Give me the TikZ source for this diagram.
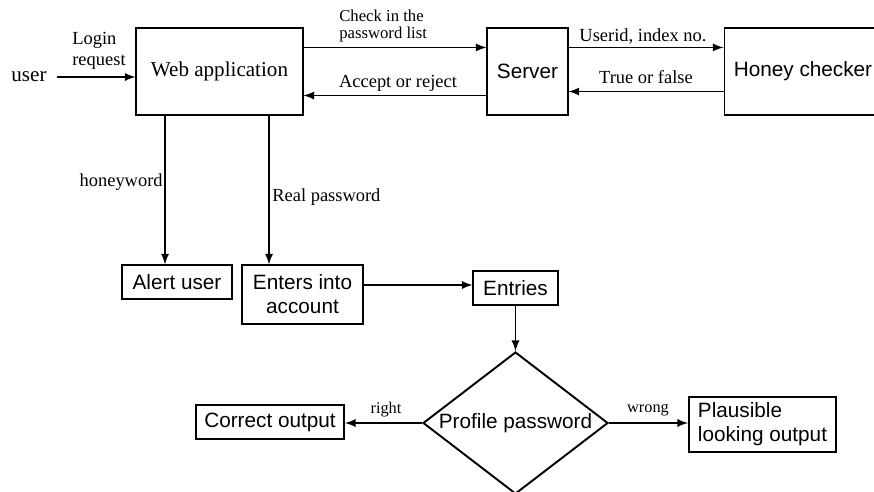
\documentclass[tikz,border=0pt]{standalone}
\usepackage{fontspec}
\setmainfont{Liberation Serif}
\setsansfont{Liberation Sans}
\usetikzlibrary{arrows,shapes.geometric}

\begin{document}
\begin{tikzpicture}[x=0.02cm,y=-0.02cm,
  box/.style={draw,line width=0.6pt,inner sep=0pt,font=\sffamily\fontsize{11.8}{13.6}\selectfont},
  lbl/.style={inner sep=0pt,font=\fontsize{10.5}{12}\selectfont},
  arr/.style={->,>=latex,line width=1.1pt}]
\useasboundingbox (0,0) rectangle (874,492);
% top row
\node[inner sep=0pt,inner xsep=5.5pt,font=\fontsize{12}{14}\selectfont] (user) at (29,77) {user};
\node[box,font=\fontsize{12}{14}\selectfont,minimum width=3.34cm,minimum height=1.74cm] (web) at (219.5,71.5) {Web application};
\node[box,minimum width=1.62cm,minimum height=1.74cm] (server) at (527.5,71.5) {Server};
\node[box,minimum width=3.16cm,minimum height=1.74cm] (honey) at (803,71.5) {Honey checker};
% lower boxes
\node[box,minimum width=2.2cm,minimum height=0.68cm] (alert) at (177,282) {Alert user};
\node[box,align=center,minimum width=2.42cm,minimum height=1.18cm] (enters) at (302.5,294.5) {Enters into\\account};
\node[box,minimum width=1.7cm,minimum height=0.68cm] (entries) at (515.5,288) {Entries};
\node[box,diamond,aspect=1.3,line width=1.1pt,minimum width=3.7cm,minimum height=2.84cm] (profile) at (515.5,423) {Profile password};
\node[box,line width=1.1pt,minimum width=2.96cm,minimum height=0.68cm] (correct) at (270,422) {Correct output};
\node[box,line width=1.1pt,align=left,minimum width=2.94cm,minimum height=1.1cm] (plausible) at (762.5,424.5) {Plausible\\looking output};
% connectors
\draw[arr] (user.east) -- (user.east -| web.west);
\draw[arr] ([yshift=-0.4cm]web.north east) -- ([yshift=-0.4cm]server.north west);
\draw[arr] ([yshift=0.4cm]server.south west) -- ([yshift=0.4cm]web.south east);
\draw[arr] ([yshift=-0.4cm]server.north east) -- ([yshift=-0.4cm]honey.north west);
\draw[arr] ([yshift=0.48cm]honey.south west) -- ([yshift=0.48cm]server.south east);
\draw[arr] ([xshift=-0.24cm]alert.north |- web.south) -- ([xshift=-0.24cm]alert.north);
\draw[arr] ([xshift=-0.67cm]enters.north |- web.south) -- ([xshift=-0.67cm]enters.north);
\draw[arr] ([yshift=0.19cm]enters.east) -- ([yshift=0.19cm]enters.east -| entries.west);
\draw[arr] (entries.south) -- (profile.north);
\draw[arr] (profile.west) -- (profile.west -| correct.east);
\draw[arr] (profile.east) -- (profile.east -| plausible.west);
% labels
\node[lbl,align=left,anchor=west] (login) at (72,51) {Login\\request};
\node[lbl,align=left,anchor=west,font=\fontsize{9.5}{9.6}\selectfont] (check) at (339,26) {Check in the\\password list};
\node[lbl] (accept) at (398,83) {Accept or reject};
\node[lbl] (userid) at (643,37) {Userid, index no.};
\node[lbl] (truefalse) at (646,77) {True or false};
\node[lbl,anchor=east] (honeyword) at (163,182) {honeyword};
\node[lbl,anchor=west] (real) at (272,197) {Real password};
\node[lbl,font=\fontsize{9.3}{11}\selectfont] (right) at (386,410) {right};
\node[lbl,font=\fontsize{9.3}{11}\selectfont] (wrong) at (648,410) {wrong};
\end{tikzpicture}
\end{document}
